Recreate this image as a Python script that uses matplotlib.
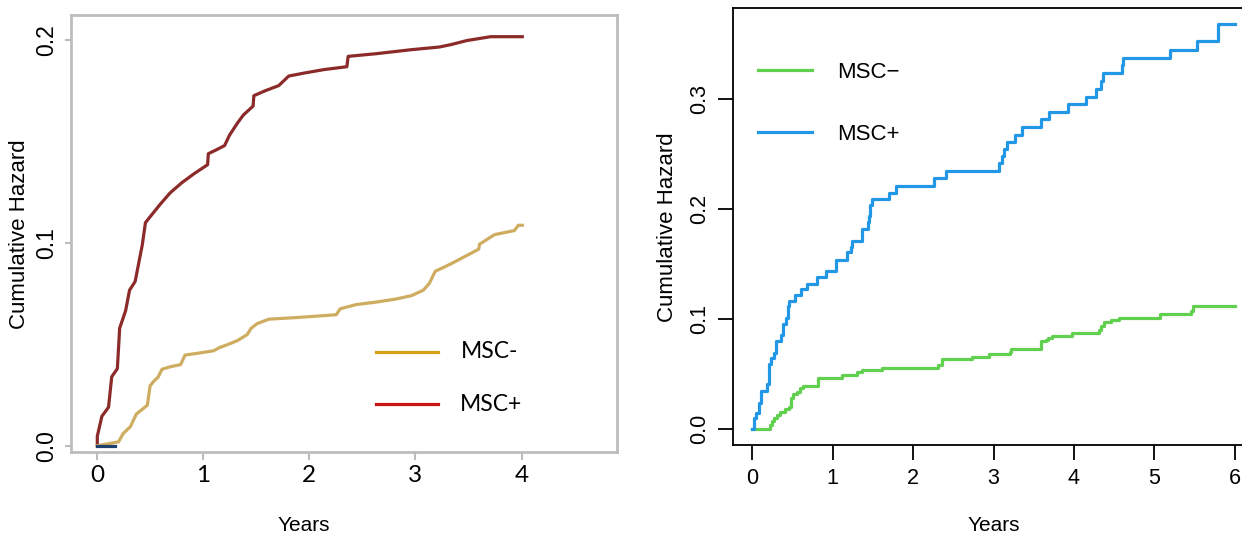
import matplotlib
matplotlib.use("Agg")
import matplotlib.pyplot as plt

# ---------------- Left panel data (smoothed cumulative hazard) ----------------
left_pos_years = [0.0, 0.0, 0.043, 0.106, 0.136, 0.189, 0.211, 0.267, 0.304, 0.357, 0.424, 0.454,
                  0.498, 0.592, 0.685, 0.797, 0.909, 1.040, 1.047, 1.114, 1.20, 1.245, 1.32, 1.376,
                  1.469, 1.476, 1.581, 1.711, 1.805, 1.954, 2.14, 2.353, 2.365, 2.626, 2.962, 3.223,
                  3.335, 3.484, 3.708, 4.007]
left_pos_hazard = [0.0, 0.0047, 0.0145, 0.019, 0.034, 0.038, 0.058, 0.0666, 0.0767, 0.081, 0.099, 0.110,
                   0.1129, 0.119, 0.1246, 0.1297, 0.134, 0.1386, 0.144, 0.1457, 0.148, 0.153, 0.159, 0.163,
                   0.1675, 0.1726, 0.175, 0.1776, 0.1823, 0.1838, 0.1855, 0.1869, 0.192, 0.1933, 0.1953, 0.1966,
                   0.1978, 0.1998, 0.2017, 0.2017]

left_neg_years = [0.0, 0.2, 0.244, 0.312, 0.368, 0.442, 0.472, 0.498, 0.536, 0.573, 0.610, 0.685, 0.786,
                  0.827, 0.946, 1.096, 1.152, 1.226, 1.32, 1.413, 1.45, 1.506, 1.618, 1.88, 2.253, 2.29,
                  2.44, 2.626, 2.812, 2.962, 3.074, 3.13, 3.186, 3.335, 3.596, 3.604, 3.746, 3.933, 3.97, 4.007]
left_neg_hazard = [0.0, 0.0019, 0.006, 0.0094, 0.0156, 0.0187, 0.020, 0.0296, 0.032, 0.0338, 0.0377, 0.0389, 0.040,
                   0.0447, 0.0456, 0.0468, 0.0484, 0.0498, 0.0518, 0.0548, 0.0579, 0.0602, 0.0624, 0.0632, 0.0646, 0.0675,
                   0.0696, 0.0708, 0.0723, 0.074, 0.0767, 0.080, 0.086, 0.0897, 0.0969, 0.0994, 0.1041, 0.1061, 0.1087, 0.1087]

left_extra_years = [0.0, 0.17]
left_extra_hazard = [0.0, 0.0]

left_xticks = [0, 1, 2, 3, 4]
left_yticks = [0.0, 0.1, 0.2]
left_ytick_labels = ["0.0", "0.1", "0.2"]
left_labels = ["MSC-", "MSC+"]

# ---------------- Right panel data (step cumulative hazard) ----------------
right_pos_years = [0.0, 0.025, 0.049, 0.084, 0.113, 0.183, 0.212, 0.237, 0.271, 0.296, 0.360, 0.380, 0.419,
                   0.444, 0.459, 0.528, 0.602, 0.676, 0.799, 0.913, 1.046, 1.184, 1.224, 1.234, 1.367,
                   1.441, 1.456, 1.465, 1.49, 1.702, 1.786, 2.255, 2.403, 3.069, 3.109, 3.133, 3.173,
                   3.266, 3.350, 3.587, 3.696, 3.923, 4.155, 4.278, 4.342, 4.357, 4.604, 4.613, 5.191,
                   5.536, 5.788, 5.798, 6.0]
right_pos_hazard = [0.0, 0.0099, 0.0145, 0.0238, 0.0346, 0.0408, 0.0594, 0.064, 0.0693, 0.0795, 0.0857, 0.095, 0.101,
                    0.112, 0.116, 0.1219, 0.1268, 0.132, 0.1383, 0.1435, 0.1537, 0.1608, 0.1655, 0.1707, 0.1816,
                    0.1877, 0.194, 0.2032, 0.2094, 0.2147, 0.2208, 0.228, 0.2348, 0.2413, 0.248, 0.2543, 0.261,
                    0.2672, 0.2744, 0.2815, 0.2883, 0.2951, 0.3022, 0.3093, 0.3161, 0.3235, 0.331, 0.3371, 0.3446,
                    0.3526, 0.360, 0.368, 0.368]

right_neg_years = [0.0, 0.197, 0.222, 0.247, 0.271, 0.311, 0.345, 0.410, 0.459, 0.479, 0.503, 0.558, 0.592,
                   0.627, 0.814, 1.110, 1.308, 1.367, 1.613, 2.309, 2.354, 2.729, 2.946, 3.207, 3.217,
                   3.587, 3.651, 3.676, 3.725, 3.982, 4.317, 4.342, 4.377, 4.465, 4.564, 5.067, 5.452,
                   5.487, 6.0]
right_neg_hazard = [0.0, 0.0, 0.0037, 0.0074, 0.0099, 0.0124, 0.0155, 0.0176, 0.0198, 0.0278, 0.0316, 0.0331, 0.0371,
                    0.0393, 0.0464, 0.0486, 0.0517, 0.0532, 0.0557, 0.0578, 0.0631, 0.0656, 0.068, 0.0702, 0.0724,
                    0.0795, 0.081, 0.0826, 0.0848, 0.0872, 0.0903, 0.0934, 0.0971, 0.099, 0.1011, 0.1042, 0.1073,
                    0.112, 0.112]

right_xticks = [0, 1, 2, 3, 4, 5, 6]
right_yticks = [0.0, 0.1, 0.2, 0.3]
right_ytick_labels = ["0.0", "0.1", "0.2", "0.3"]
right_labels = ["MSC\u2212", "MSC+"]

W, H = 1242, 534
fig = plt.figure(figsize=(W / 100, H / 100), dpi=100)
fig.patch.set_facecolor("white")


def fx(px):
    return px / W


def fy(py):
    return (H - py) / H


# ---------------- Left axes ----------------
axL = fig.add_axes([fx(71), fy(452), (617 - 71) / W, (452 - 15) / H])
gray = "#bdbdbd"
axL.plot(left_pos_years, left_pos_hazard, color="#8c2a2a", lw=2.3, solid_joinstyle="round")
axL.plot(left_neg_years, left_neg_hazard, color="#cfad60", lw=2.3, solid_joinstyle="round")
axL.plot(left_extra_years, left_extra_hazard, color="#1f3f6e", lw=2.3)
axL.set_xlim(-0.248, 4.90)
axL.set_ylim(-0.0031, 0.2124)
for s in axL.spines.values():
    s.set_color(gray)
    s.set_linewidth(2.0)
axL.set_xticks(left_xticks)
axL.set_xticklabels([str(t) for t in left_xticks], family="Lato", fontsize=17.5)
axL.set_yticks(left_yticks)
axL.set_yticklabels(left_ytick_labels, family="Liberation Sans", fontsize=16.5,
                    rotation=90, va="center")
axL.tick_params(axis="x", length=6, width=1.5, color=gray, pad=3)
axL.tick_params(axis="y", length=4, width=1.5, color=gray, pad=5)
fig.lines.append(plt.Line2D([fx(376), fx(438)], [fy(351.7), fy(351.7)], color="#d4a114", lw=2.3,
                            transform=fig.transFigure))
fig.lines.append(plt.Line2D([fx(376), fx(438)], [fy(403.5), fy(403.5)], color="#c81414", lw=2.3,
                            transform=fig.transFigure))
fig.text(fx(490), fy(358.3), left_labels[0], family="Lato", fontsize=16.5, ha="center", va="baseline")
fig.text(fx(491), fy(411), left_labels[1], family="Lato", fontsize=16.5, ha="center", va="baseline")
fig.text(fx(19.6), fy(234), "Cumulative Hazard", family="Liberation Sans", fontsize=16,
         rotation=90, ha="center", va="center")
fig.text(fx(304), fy(531), "Years", family="Liberation Sans", fontsize=15, ha="center", va="baseline")

# ---------------- Right axes ----------------
axR = fig.add_axes([fx(733), fy(445), (1254 - 733) / W, (445 - 8) / H])
axR.plot(right_neg_years, right_neg_hazard, drawstyle="steps-post", color="#61D04F", lw=2.3)
axR.plot(right_pos_years, right_pos_hazard, drawstyle="steps-post", color="#2297E6", lw=2.3)
axR.set_xlim(-0.24, 6.24)
axR.set_ylim(-0.0147, 0.3827)
for s in axR.spines.values():
    s.set_color("black")
    s.set_linewidth(1.3)
axR.set_xticks(right_xticks)
axR.set_xticklabels([str(t) for t in right_xticks], family="Liberation Sans", fontsize=15.5)
axR.set_yticks(right_yticks)
axR.set_yticklabels(right_ytick_labels, family="Liberation Sans", fontsize=15.5,
                    rotation=90, va="center")
axR.tick_params(axis="both", length=10.5, width=1.3, color="black")
axR.tick_params(axis="x", pad=6)
axR.tick_params(axis="y", pad=6)
fig.lines.append(plt.Line2D([fx(758), fx(812)], [fy(70.4), fy(70.4)], color="#61D04F", lw=2.3,
                            transform=fig.transFigure))
fig.lines.append(plt.Line2D([fx(758), fx(812)], [fy(131.6), fy(131.6)], color="#2297E6", lw=2.3,
                            transform=fig.transFigure))
fig.text(fx(837.5), fy(78.5), right_labels[0], family="Liberation Sans", fontsize=16,
         ha="left", va="baseline")
fig.text(fx(837.5), fy(139.5), right_labels[1], family="Liberation Sans", fontsize=16,
         ha="left", va="baseline")
fig.text(fx(667), fy(227), "Cumulative Hazard", family="Liberation Sans", fontsize=16,
         rotation=90, ha="center", va="center")
fig.text(fx(994), fy(531), "Years", family="Liberation Sans", fontsize=15, ha="center", va="baseline")

fig.savefig("out.png", dpi=100)
